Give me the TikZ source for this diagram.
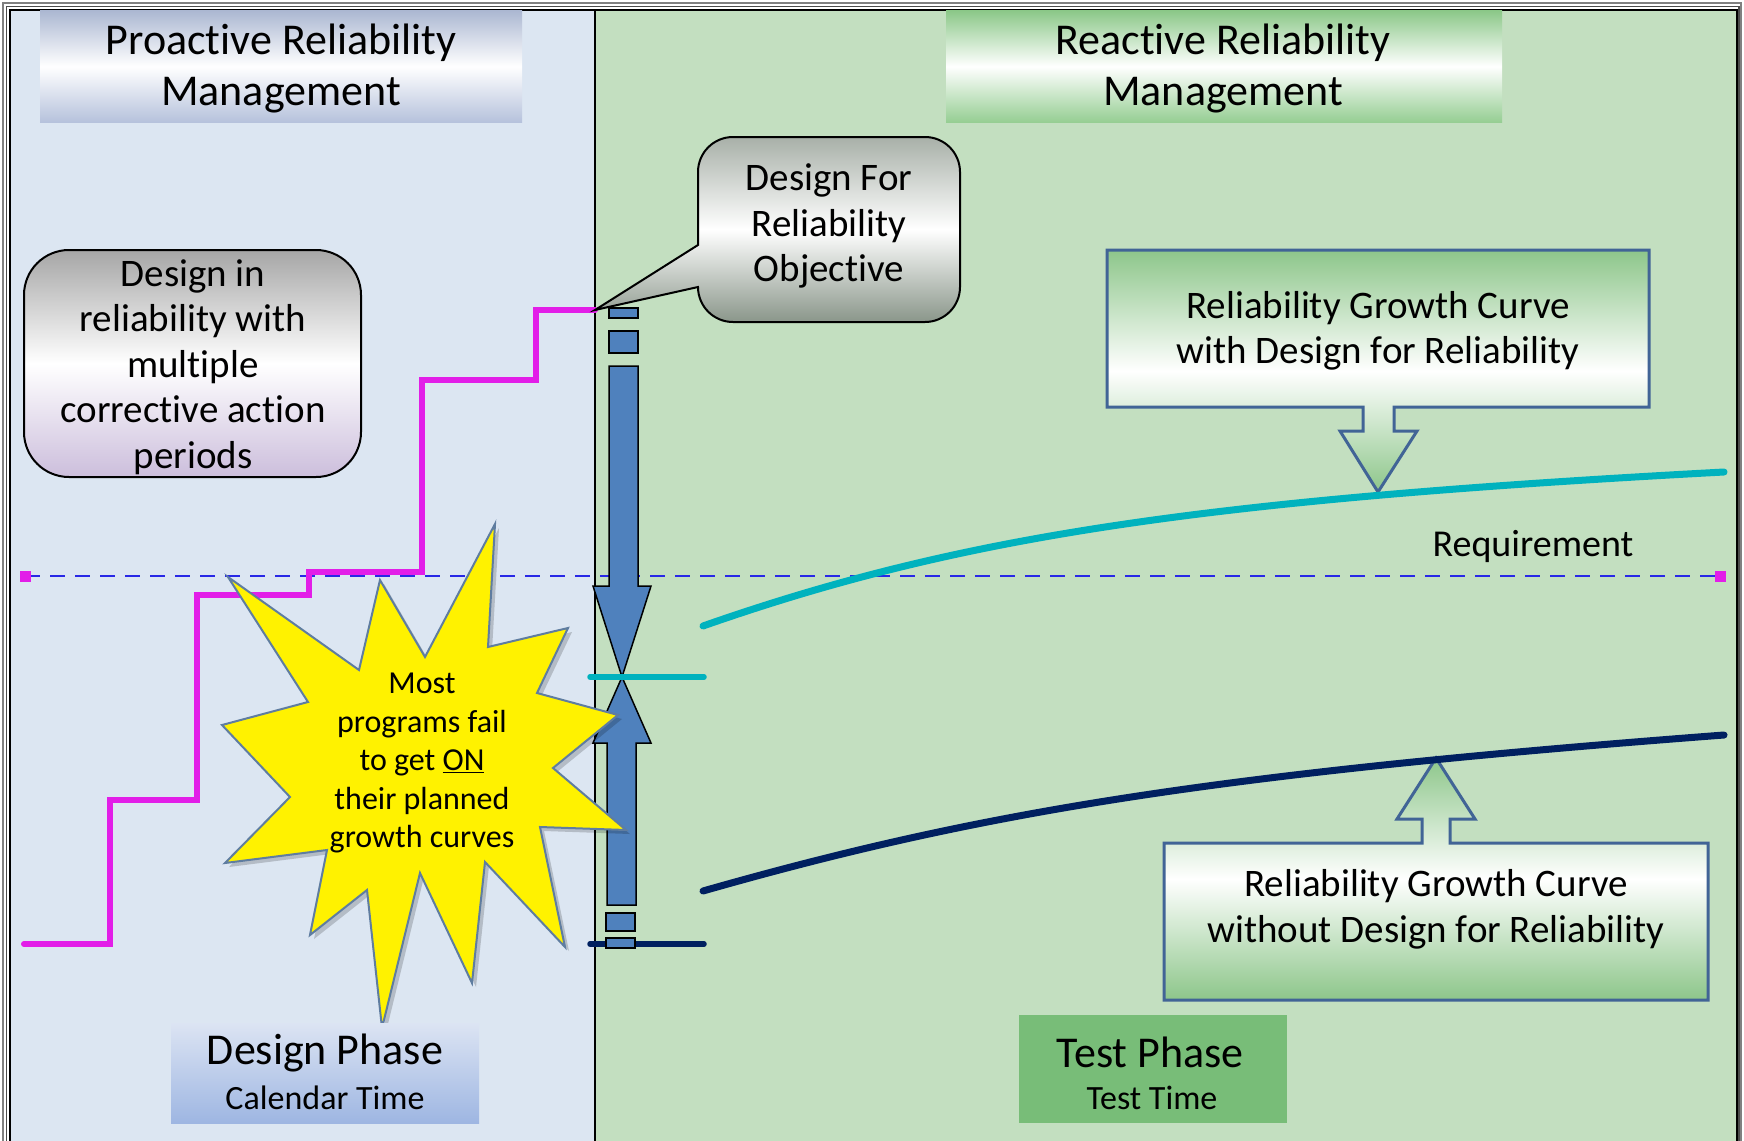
\documentclass[tikz,border=0pt]{standalone}
\usepackage{fontspec}
\setmainfont{Carlito}[Ligatures=CommonOff]
\definecolor{leftbg}{RGB}{220,230,242}
\definecolor{rightbg}{RGB}{195,223,192}
\definecolor{hdrblueT}{RGB}{172,184,210}
\definecolor{hdrblueB}{RGB}{182,194,220}
\definecolor{hdrgreenT}{RGB}{140,200,137}
\definecolor{hdrgreenB}{RGB}{150,206,147}
\definecolor{boxgreen}{RGB}{141,198,138}
\definecolor{boxedge}{RGB}{65,100,150}
\definecolor{stepmag}{RGB}{226,30,232}
\definecolor{reqblue}{RGB}{40,40,230}
\definecolor{cyanc}{RGB}{0,178,190}
\definecolor{navyc}{RGB}{0,32,96}
\definecolor{arrblue}{RGB}{79,129,189}
\definecolor{staredge}{RGB}{95,125,160}
\definecolor{testgreen}{RGB}{120,189,120}
\definecolor{dptop}{RGB}{220,228,243}
\definecolor{dpbot}{RGB}{158,182,226}
\definecolor{callT}{RGB}{168,176,168}
\definecolor{callB}{RGB}{138,150,138}
\definecolor{lboxT}{RGB}{166,166,166}
\definecolor{lboxB}{RGB}{204,190,220}
\begin{document}
\begin{tikzpicture}[x=1pt,y=-1pt,
  hdrtext/.style={align=center,inner sep=0pt,font={\fontsize{44}{51}\selectfont}},
  bodytext/.style={align=center,inner sep=0pt,font={\fontsize{39}{45.5}\selectfont}},
  startext/.style={align=center,inner sep=0pt,font={\fontsize{32}{38.5}\selectfont}},
  phasebig/.style={inner sep=0pt,font={\fontsize{44}{50}\selectfont}},
  phasesmall/.style={inner sep=0pt,font={\fontsize{34}{40}\selectfont}},
  greenbox/.style={draw=boxedge,line width=3pt,line join=miter,top color=boxgreen,bottom color=boxgreen,middle color=white},
  bluebar/.style={fill=arrblue,draw=black,line width=1.5pt,line join=miter},
  curve/.style={line width=7pt,line cap=round}
]
\useasboundingbox (0,0) rectangle (1744,1140);
\clip (0,0) rectangle (1744,1140);
\fill[white] (0,0) rectangle (1744,1140);
% panels
\fill[leftbg] (10,10) rectangle (595,1150);
\fill[rightbg] (595,10) rectangle (1737,1150);
% frame
\draw[gray,line width=1.5pt] (3,3) rectangle (1741,1150);
\draw[gray!60!black,line width=1.2pt] (6.5,6.5) rectangle (1739,1150);
\draw[black,line width=2pt] (10,10) rectangle (1737,1150);
\draw[black,line width=2pt] (595,10) -- (595,1150);
% headers
\node (hl) [top color=hdrblueT,bottom color=hdrblueB,middle color=white,minimum width=482pt,minimum height=111pt,inner sep=0pt] at (281,66.5) {};
\node (hltext) [hdrtext] at (281,68.5) {Proactive Reliability\\Management};
\node (hr) [top color=hdrgreenT,bottom color=hdrgreenB,middle color=white,minimum width=556pt,minimum height=111pt,inner sep=0pt] at (1224,66.5) {};
\node (hrtext) [hdrtext] at (1223,68.5) {Reactive Reliability\\Management};
% requirement line
\draw[reqblue,line width=2pt,dash pattern=on 15pt off 10pt] (25,576) -- (1720,576);
\fill[stepmag] (19.5,570.5) rectangle (30.5,581.5);
\fill[stepmag] (1714.5,570.5) rectangle (1725.5,581.5);
\node (req) [font={\fontsize{38}{44}\selectfont},inner sep=0pt] at (1533,546) {Requirement};
% step line
\coordinate (s0) at (24,944);
\coordinate (obj) at (595,310);
\draw[stepmag,line width=6pt,line cap=round,line join=miter] (s0) -- (110,944) -- (110,800) -- (197,800) -- (197,595) -- (309,595) -- (309,572) -- (422,572) -- (422,380) -- (536,380) -- (536,310) -- (obj);
% callout
\draw[black,line width=2pt,top color=callT,bottom color=callB,middle color=white]
  (obj) -- (698,245) -- (698,172) arc[start angle=180,end angle=270,radius=35]
  -- (925,137) arc[start angle=270,end angle=360,radius=35]
  -- (960,287) arc[start angle=0,end angle=90,radius=35]
  -- (733,322) arc[start angle=90,end angle=180,radius=35] -- cycle;
\node (callt) [bodytext] at (829,226) {Design For\\Reliability\\Objective};
% left rounded box
\node (lbox) [draw=black,line width=2pt,rounded corners=45pt,top color=lboxT,bottom color=lboxB,middle color=white,minimum width=337pt,minimum height=227pt,inner sep=0pt] at (192.5,363.5) {};
\node (lboxt) [bodytext] at (193,367) {Design in\\reliability with\\multiple\\corrective action\\periods};
% green box with DFR
\draw[greenbox] (1107,250) -- (1649,250) -- (1649,407) -- (1394,407) -- (1394,431) -- (1417,431) -- (1378,492) -- (1340,431) -- (1363,431) -- (1363,407) -- (1107,407) -- cycle;
\node (gtop) [bodytext] at (1378,331) {Reliability Growth Curve\\with Design for Reliability};
% green box without DFR
\draw[greenbox] (1164,843) -- (1422,843) -- (1422,819) -- (1397,819) -- (1436,758) -- (1475,819) -- (1450,819) -- (1450,843) -- (1708,843) -- (1708,1000) -- (1164,1000) -- cycle;
\node (gbot) [bodytext] at (1436,909.5) {Reliability Growth Curve\\without Design for Reliability};
% growth curves
\draw[curve,cyanc] (703,626) .. controls (960,536) and (1200,500) .. (1724,472);
\draw[curve,navyc] (703,891) .. controls (980,812) and (1210,774) .. (1724,735);
% blue bars and arrows
\draw[bluebar] (609,308) rectangle (638,318);
\draw[bluebar] (609,331) rectangle (638,353);
\draw[bluebar] (609,366) -- (638,366) -- (638,586) -- (651,586) -- (622,677) -- (593,586) -- (609,586) -- cycle;
\draw[bluebar] (607,905) -- (636,905) -- (636,743) -- (651,743) -- (622,677) -- (593,743) -- (607,743) -- cycle;
\draw[bluebar] (606,913) rectangle (635,931);
\draw[navyc,line width=5.5pt,line cap=round] (590,944) -- (704,944);
\draw[bluebar] (606,938) rectangle (635,948);
\draw[cyanc,line width=5.5pt,line cap=round] (590,677) -- (704,677);
% starburst
\fill[black,opacity=0.18] (232,581) -- (363,674) -- (384,584) -- (429,661) -- (499,528) -- (492,651) -- (572,632) -- (541,697) -- (622,719) -- (557,772) -- (630,834) -- (544,831) -- (569,951) -- (489,866) -- (476,987) -- (424,877) -- (386,1032) -- (371,894) -- (314,939) -- (331,854) -- (229,867) -- (294,801) -- (226,729) -- (312,706) -- cycle;
\draw[fill=yellow,draw=staredge,line width=2pt,line join=miter] (228,577) -- (359,670) -- (380,580) -- (425,657) -- (495,524) -- (488,647) -- (568,628) -- (537,693) -- (618,715) -- (553,768) -- (626,830) -- (540,827) -- (565,947) -- (485,862) -- (472,983) -- (420,873) -- (382,1028) -- (367,890) -- (310,935) -- (327,850) -- (225,863) -- (290,797) -- (222,725) -- (308,702) -- cycle;
\node (startext) [startext] at (422,763) {Most\\programs fail\\to get \underline{ON}\\their planned\\growth curves};
% phase boxes
\node (dpbox) [top color=dptop,bottom color=dpbot,minimum width=308pt,minimum height=100pt,inner sep=0pt] at (325,1073) {};
\node (dp1) [phasebig] at (325,1053) {Design Phase};
\node (dp2) [phasesmall] at (325,1098) {Calendar Time};
\node (tpbox) [fill=testgreen,minimum width=268pt,minimum height=108pt,inner sep=0pt] at (1153,1069) {};
\node (tp1) [phasebig] at (1150,1052) {Test Phase};
\node (tp2) [phasesmall] at (1152,1098) {Test Time};
\end{tikzpicture}
\end{document}
